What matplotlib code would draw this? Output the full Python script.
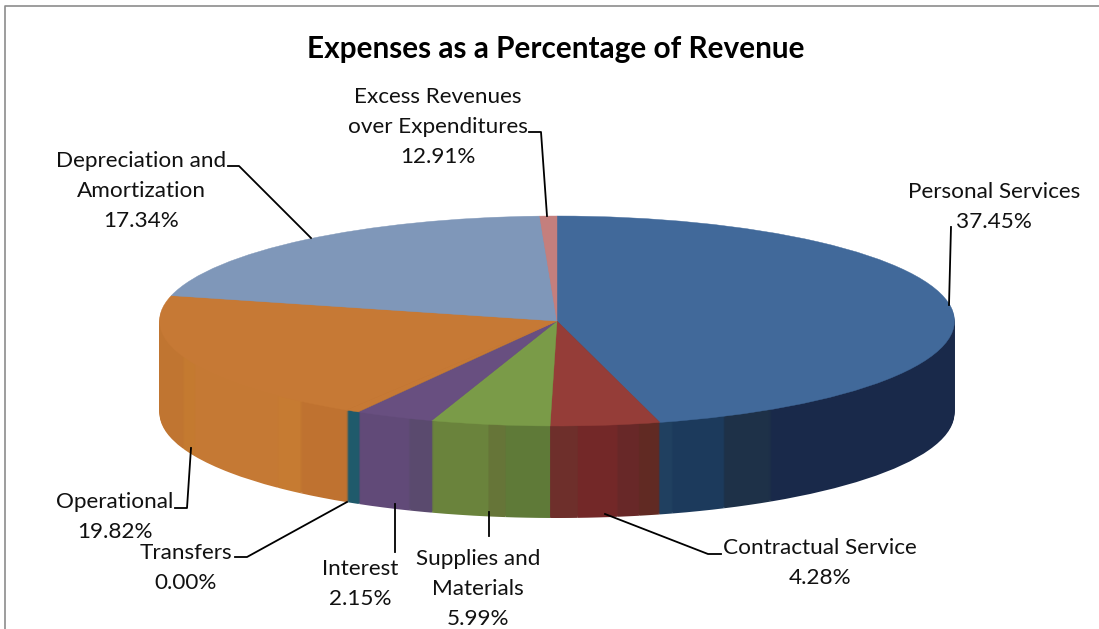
import matplotlib
matplotlib.use("Agg")
import matplotlib.pyplot as plt

# slice names and the percentages printed on the labels
categories = ["Personal Services", "Contractual Service", "Supplies and\nMaterials", "Interest",
              "Transfers", "Operational", "Depreciation and\nAmortization", "Excess Revenues\nover Expenditures"]
label_pcts = [37.45, 4.28, 5.99, 2.15, 0.00, 19.82, 17.34, 12.91]

# sweep of each slice as drawn in the picture (degrees, does not follow the labels)
slice_sweep = [165, 16, 17.4, 11.6, 2, 72, 73.5, 2.5]
# transfers only shows on the wall, its top looks like operational
top_colors = ["#41699a", "#953d38", "#7a9b48", "#684f80", "#c67935", "#c67935", "#7f97b9", "#c47f7d"]

# the side wall is split in bands, same direction as the slices
side_sweep = [147.3, 7.7, 8, 2,
              3, 3.2, 5.8, 4,
              6.5, 2.5, 8.4,
              3.5, 8.1,
              2,
              8.3, 4.5, 21, 4.6, 33.6,
              73.5, 2.5]
side_colors = ["#19294a", "#1e3148", "#1c3a5c", "#204060",
               "#612a23", "#682828", "#732828", "#6e2f2b",
               "#5f7a38", "#667538", "#6a833c",
               "#5a4a6e", "#614a78",
               "#1f5a6b",
               "#bf7230", "#c67b32", "#c57934", "#c47a30", "#c07531",
               "#7f97b9", "#c47f7d"]

W, H = 1099, 629
hub_x, hub_y = 557, 321
rx, ry = 397.5, 105
depth = 92

plt.rcParams["font.family"] = "Lato"

fig = plt.figure(figsize=(W / 100, H / 100), dpi=100)
ax = fig.add_axes([0, 0, 1, 1])

# stack of pies for the wall, then the top face
for d in range(depth, 0, -1):
    ax.pie(side_sweep, colors=side_colors, startangle=90, counterclock=False,
           center=(0, -d / ry), radius=1, wedgeprops={"linewidth": 0})
top_wedges, _ = ax.pie(slice_sweep, colors=top_colors, startangle=90, counterclock=False,
                       center=(0, 0), radius=1)
for w in top_wedges:
    w.set_edgecolor(w.get_facecolor())
    w.set_linewidth(0.3)
ax.set_aspect("auto")
ax.set_xlim(-hub_x / rx, (W - hub_x) / rx)
ax.set_ylim(-(H - hub_y) / ry, hub_y / ry)

# overlay in pixels for frame, labels, leader lines
ov = fig.add_axes([0, 0, 1, 1])
ov.set_xlim(0, W)
ov.set_ylim(H, 0)
ov.axis("off")

ov.plot([5, 5, W], [H, 6, 6], color="#8c8c8c", lw=1.2)

ov.text(556, 49, "Expenses as a Percentage of Revenue", fontsize=21.4, fontweight="bold",
        ha="center", va="center", color="black")

label_pos = [(994, 207), (820, 563), (478, 589), (360, 584),
             (186, 568), (115, 517), (141, 191), (438, 127)]
for name, pct, pos in zip(categories, label_pcts, label_pos):
    ov.text(pos[0], pos[1], "%s\n%.2f%%" % (name, pct), fontsize=16.2, ha="center", va="center",
            linespacing=1.6, color="#111111")

leaders = [
    ([951, 949], [227, 305]),
    ([605, 708, 721], [514, 554, 554]),
    ([489, 489], [512, 536]),
    ([395, 395], [504, 552]),
    ([235, 247, 347], [557, 557, 502]),
    ([175, 187, 191], [508, 508, 448]),
    ([228, 239, 311], [166, 166, 238]),
    ([529, 541, 547], [132, 132, 216]),
]
for xs, ys in leaders:
    ov.plot(xs, ys, color="black", lw=1.3)

fig.savefig("out.png", dpi=100)
